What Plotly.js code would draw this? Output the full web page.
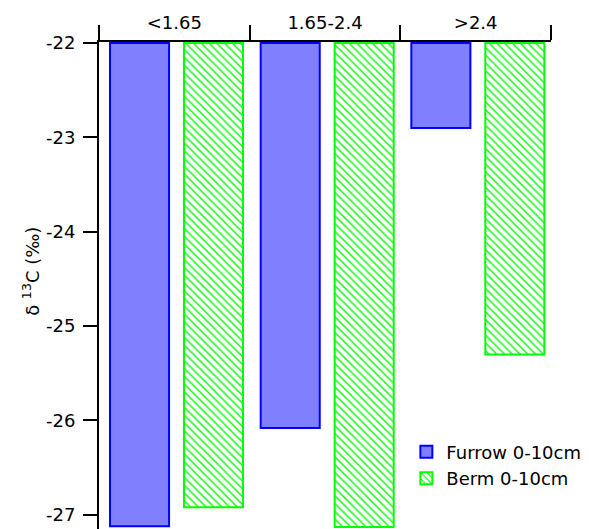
<!DOCTYPE html>
<html><head><meta charset="utf-8">
<script src="https://cdn.plot.ly/plotly-3.0.1.min.js"></script>
<style>html,body{margin:0;padding:0;background:#fff}</style>
</head><body>
<div id="chart" style="width:589px;height:529px"></div>
<script>
const categories = ["<1.65", "1.65-2.4", ">2.4"];
const furrow = [-27.12, -26.08, -22.9];
const berm = [-26.92, -27.13, -25.3];
const baseline = -22;
const seriesNames = ["Furrow 0-10cm", "Berm 0-10cm"];
const yTicks = [-22, -23, -24, -25, -26, -27];
const yTitle = "δ <sup>13</sup>C (‰)";

const font = {family: "DejaVu Sans, Verdana, sans-serif", size: 18, color: "#000"};

const traces = [
  {
    type: "bar", name: seriesNames[0], x: categories,
    y: furrow.map(v => v - baseline), base: baseline,
    width: 0.392, offset: -0.427,
    marker: {color: "#8080FF", line: {color: "#0000FF", width: 2}}
  },
  {
    type: "bar", name: seriesNames[1], x: categories,
    y: berm.map(v => v - baseline), base: baseline,
    width: 0.392, offset: 0.064,
    marker: {color: "#FFFFFF", line: {color: "#00FF00", width: 2},
      pattern: {shape: "\\", fgcolor: "#00FF00", bgcolor: "#FFFFFF", size: 5.5, solidity: 0.25}}
  }
];

const layout = {
  width: 589, height: 529,
  margin: {l: 99, r: 38, t: 42, b: 0},
  paper_bgcolor: "#fff", plot_bgcolor: "#fff",
  font: font,
  showlegend: true,
  barmode: "overlay",
  xaxis: {
    side: "top", type: "category", range: [-0.5, 2.5],
    showline: true, linecolor: "#000", linewidth: 2,
    ticks: "outside", tickson: "boundaries", ticklen: 15, tickwidth: 2, tickcolor: "#000",
    showgrid: false, zeroline: false, tickfont: font, fixedrange: true,
    ticklabelstandoff: 4
  },
  yaxis: {
    range: [-27.15, -21.99], tickvals: yTicks, ticktext: yTicks.map(String),
    showline: true, linecolor: "#000", linewidth: 2,
    ticks: "outside", ticklen: 14, tickwidth: 2, tickcolor: "#000",
    showgrid: false, zeroline: false, tickfont: font, fixedrange: true,
    ticklabelstandoff: 4
  },
  annotations: [{
    text: yTitle, textangle: -90, showarrow: false,
    xref: "paper", yref: "paper", x: 0, y: 0.528,
    xanchor: "center", yanchor: "middle", xshift: -68,
    font: font
  }],
  legend: {
    x: 0.68, y: 0.196, xanchor: "left", yanchor: "top",
    bgcolor: "rgba(0,0,0,0)", font: font, tracegroupgap: 0
  }
};

Plotly.newPlot("chart", traces, layout, {staticPlot: true, displayModeBar: false});
</script>
</body></html>
